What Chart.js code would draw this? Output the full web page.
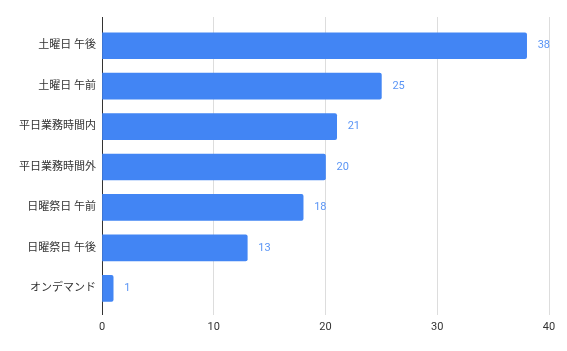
<!DOCTYPE html>
<html>
<head>
<meta charset="utf-8">
<script src="https://cdn.jsdelivr.net/npm/chart.js@4/dist/chart.umd.min.js"></script>
<style>
  html, body { margin: 0; padding: 0; background: #fff; }
  #wrap { width: 567px; height: 351px; }
</style>
</head>
<body>
<div id="wrap"><canvas id="chart"></canvas></div>
<script>
// Categories, top to bottom
const categories = ['土曜日 午後', '土曜日 午前', '平日業務時間内', '平日業務時間外', '日曜祭日 午前', '日曜祭日 午後', 'オンデマンド'];
const counts = [38, 25, 21, 20, 18, 13, 1];
const xTicks = [0, 10, 20, 30, 40];

const BLUE = '#4285F4';

// value labels drawn just past the end of each bar
const valueLabels = {
    id: 'valueLabels',
    afterDatasetsDraw(chart) {
        const ctx = chart.ctx;
        const meta = chart.getDatasetMeta(0);
        ctx.save();
        ctx.font = '11px Roboto, "Noto Sans CJK JP", sans-serif';
        ctx.fillStyle = '#5b95f5';
        ctx.textAlign = 'left';
        ctx.textBaseline = 'middle';
        meta.data.forEach(function(bar, i) {
            ctx.fillText(String(counts[i]), bar.x + 11, bar.y);
        });
        ctx.restore();
    }
};

new Chart(document.getElementById('chart'), {
    type: 'bar',
    data: {
        datasets: [{
            data: counts.map(function(v, i) { return { x: v, y: i }; }),
            backgroundColor: BLUE,
            borderRadius: 2,
            borderSkipped: 'start',
            barThickness: 26
        }]
    },
    options: {
        indexAxis: 'y',
        responsive: true,
        maintainAspectRatio: false,
        animation: false,
        layout: { padding: { top: 17, right: 18, left: 0, bottom: 0 } },
        plugins: {
            legend: { display: false },
            tooltip: { enabled: false }
        },
        scales: {
            x: {
                type: 'linear',
                min: 0,
                max: 40,
                afterBuildTicks: function(axis) {
                    axis.ticks = xTicks.map(function(v) { return { value: v }; });
                },
                afterFit: function(axis) { axis.height = 36; },
                border: { display: false },
                grid: {
                    drawTicks: false,
                    color: function(c) { return c.tick && c.tick.value === 0 ? '#333333' : '#dddddd'; },
                    lineWidth: 1
                },
                ticks: {
                    padding: 6,
                    color: '#333',
                    font: { family: 'Roboto, "Noto Sans CJK JP", sans-serif', size: 11 }
                }
            },
            y: {
                type: 'linear',
                reverse: true,
                offset: false,
                min: -0.71,
                max: 6.66,
                afterBuildTicks: function(axis) {
                    axis.ticks = categories.map(function(c, i) { return { value: i }; });
                },
                afterFit: function(axis) { axis.width = 102; },
                border: { display: false },
                grid: { display: false, drawTicks: false, offset: false },
                ticks: {
                    padding: 6,
                    color: '#333',
                    font: { family: 'Roboto, "Noto Sans CJK JP", sans-serif', size: 11 },
                    callback: function(value) { return categories[value]; }
                }
            }
        }
    },
    plugins: [valueLabels]
});
</script>
</body>
</html>
